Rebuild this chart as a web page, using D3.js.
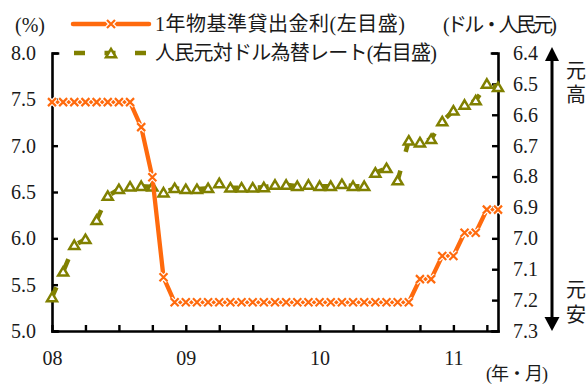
<!DOCTYPE html>
<html>
<head>
<meta charset="utf-8">
<script src="https://cdn.jsdelivr.net/npm/d3@7"></script>
<style>
  body { margin: 0; background: #fff; }
  svg { display: block; }
  text { font-family: "Liberation Serif", "Noto Sans CJK JP", serif; fill: #1a1a1a; }
</style>
</head>
<body>
<svg id="chart" width="588" height="385"></svg>
<script>
// Monthly observations, Jan 2008 (index 0) to May 2011 (index 40)
const monthIndex = d3.range(0, 41);

// 1-year benchmark lending rate (%), left axis
const lendingRate = [
  7.47, 7.47, 7.47, 7.47, 7.47, 7.47, 7.47, 7.47, 7.20, 6.66, 5.58, 5.31,
  5.31, 5.31, 5.31, 5.31, 5.31, 5.31, 5.31, 5.31, 5.31, 5.31, 5.31, 5.31,
  5.31, 5.31, 5.31, 5.31, 5.31, 5.31, 5.31, 5.31, 5.31, 5.56, 5.56, 5.81,
  5.81, 6.06, 6.06, 6.31, 6.31
];

// CNY per USD, right axis (inverted)
const cnyPerUsd = [
  7.191, 7.108, 7.022, 7.003, 6.941, 6.863, 6.841, 6.833, 6.831, 6.833, 6.852, 6.838,
  6.841, 6.841, 6.838, 6.822, 6.836, 6.836, 6.836, 6.835, 6.827, 6.827, 6.831, 6.827,
  6.831, 6.831, 6.825, 6.831, 6.831, 6.788, 6.773, 6.813, 6.684, 6.690, 6.679, 6.622,
  6.587, 6.568, 6.554, 6.500, 6.511
];

const yearLabels = ["08", "09", "10", "11"];
const leftTicks = [5.0, 5.5, 6.0, 6.5, 7.0, 7.5, 8.0];
const rightTicks = [6.4, 6.5, 6.6, 6.7, 6.8, 6.9, 7.0, 7.1, 7.2, 7.3];
const quarterTicks = d3.range(0, 41, 3);

const seriesNames = ["1年物基準貸出金利(左目盛)", "人民元対ドル為替レート(右目盛)"];
const leftUnit = "(%)";
const rightUnit = "(ドル・人民元)";
const xUnit = "(年・月)";
const strongLabel = ["元", "高"];
const weakLabel = ["元", "安"];

const ORANGE = "#ff6a0d";
const OLIVE = "#808000";

const svg = d3.select("#chart");

const x = d3.scaleLinear().domain([0, 40]).range([52, 498]);
const yL = d3.scaleLinear().domain([5, 8]).range([331, 53]);
const yR = d3.scaleLinear().domain([6.4, 7.3]).range([53, 331]);

function styleAxis(g) {
  g.attr("font-family", null).attr("font-size", null);
  g.selectAll("path.domain").attr("stroke", "#000").attr("stroke-width", 2.6)
    .attr("stroke-linecap", "square");
  g.selectAll(".tick line").attr("stroke", "#000").attr("stroke-width", 2.4);
  g.selectAll(".tick text").attr("font-size", 20).attr("fill", "#1a1a1a");
}

// Left axis (lending rate)
svg.append("g")
  .attr("transform", "translate(52,0)")
  .call(d3.axisLeft(yL).tickValues(leftTicks).tickFormat(d3.format(".1f"))
    .tickSizeInner(-6).tickSizeOuter(-6).tickPadding(16))
  .call(styleAxis);

// Right axis (exchange rate, inverted)
svg.append("g")
  .attr("transform", "translate(498,0)")
  .call(d3.axisRight(yR).tickValues(rightTicks).tickFormat(d3.format(".1f"))
    .tickSizeInner(-6).tickSizeOuter(-6).tickPadding(15))
  .call(styleAxis);

// Bottom axis, quarterly ticks, year labels
svg.append("g")
  .attr("transform", "translate(0,331)")
  .call(d3.axisBottom(x).tickValues(quarterTicks)
    .tickFormat(d => d % 12 === 0 ? yearLabels[d / 12] : "")
    .tickSizeInner(-6).tickSizeOuter(0).tickPadding(20))
  .call(styleAxis);

// Exchange-rate series: dashed olive line with open triangles
const fxLine = d3.line().x(i => x(i)).y(i => yR(cnyPerUsd[i]));
svg.append("path")
  .attr("d", fxLine(monthIndex))
  .attr("fill", "none")
  .attr("stroke", OLIVE)
  .attr("stroke-width", 4.5)
  .attr("stroke-dasharray", "11,19.5");

const triangle = "M0,-4.6L5,3.8L-5,3.8Z";
svg.append("g").selectAll("path")
  .data(monthIndex)
  .join("path")
  .attr("transform", i => `translate(${x(i)},${yR(cnyPerUsd[i])})`)
  .attr("d", triangle)
  .attr("fill", "#fff")
  .attr("stroke", OLIVE)
  .attr("stroke-width", 2.5)
  .attr("stroke-linejoin", "miter");

// Lending-rate series: solid orange line with cross markers
const rateLine = d3.line().x(i => x(i)).y(i => yL(lendingRate[i]));
svg.append("path")
  .attr("d", rateLine(monthIndex))
  .attr("fill", "none")
  .attr("stroke", ORANGE)
  .attr("stroke-width", 4.3)
  .attr("stroke-linejoin", "round");

const cross = "M-4,-4L4,4M4,-4L-4,4";
const crossG = svg.append("g");
crossG.selectAll("path.halo")
  .data(monthIndex)
  .join("path")
  .attr("class", "halo")
  .attr("transform", i => `translate(${x(i)},${yL(lendingRate[i])})`)
  .attr("d", cross)
  .attr("stroke", "#fff")
  .attr("stroke-width", 4.6);
crossG.selectAll("path.mark")
  .data(monthIndex)
  .join("path")
  .attr("class", "mark")
  .attr("transform", i => `translate(${x(i)},${yL(lendingRate[i])})`)
  .attr("d", cross)
  .attr("stroke", ORANGE)
  .attr("stroke-width", 2.2);

// Legend
const legend = svg.append("g");
legend.append("line")
  .attr("x1", 73).attr("x2", 149).attr("y1", 24).attr("y2", 24)
  .attr("stroke", ORANGE).attr("stroke-width", 4.5).attr("stroke-linecap", "round");
legend.append("path").attr("transform", "translate(111,24)").attr("d", cross)
  .attr("stroke", "#fff").attr("stroke-width", 4.6);
legend.append("path").attr("transform", "translate(111,24)").attr("d", cross)
  .attr("stroke", ORANGE).attr("stroke-width", 2.2);
legend.append("text").attr("x", 155).attr("y", 24).attr("dy", "0.35em")
  .attr("font-size", 20).attr("textLength", 250).text(seriesNames[0]);

legend.append("line")
  .attr("x1", 74).attr("x2", 146).attr("y1", 53).attr("y2", 53)
  .attr("stroke", OLIVE).attr("stroke-width", 4.5).attr("stroke-dasharray", "11,19.5");
legend.append("path").attr("transform", "translate(111,53.5)").attr("d", triangle)
  .attr("fill", "#fff").attr("stroke", OLIVE).attr("stroke-width", 2.5);
legend.append("text").attr("x", 155).attr("y", 53).attr("dy", "0.35em")
  .attr("font-size", 20).attr("textLength", 282).text(seriesNames[1]);

// Unit labels
svg.append("text").attr("x", 30).attr("y", 25).attr("dy", "0.35em")
  .attr("text-anchor", "middle").attr("font-size", 20).text(leftUnit);
svg.append("text").attr("x", 500).attr("y", 25).attr("dy", "0.35em")
  .attr("text-anchor", "middle").attr("font-size", 20).attr("textLength", 114).text(rightUnit);
svg.append("text").attr("x", 517).attr("y", 380)
  .attr("text-anchor", "middle").attr("font-size", 18).attr("textLength", 62).text(xUnit);

// Direction arrow beside the right axis
const arrowX = 552;
svg.append("line").attr("x1", arrowX).attr("x2", arrowX).attr("y1", 58).attr("y2", 318)
  .attr("stroke", "#000").attr("stroke-width", 3);
svg.append("path").attr("d", `M${arrowX},47L${arrowX + 7},61L${arrowX - 7},61Z`).attr("fill", "#000");
svg.append("path").attr("d", `M${arrowX},331L${arrowX + 7.5},317L${arrowX - 7.5},317Z`).attr("fill", "#000");

svg.append("g").selectAll("text").data(strongLabel).join("text")
  .attr("x", 576).attr("y", (d, i) => 71 + i * 24).attr("dy", "0.35em")
  .attr("text-anchor", "middle").attr("font-size", 20).text(d => d);
svg.append("g").selectAll("text").data(weakLabel).join("text")
  .attr("x", 576).attr("y", (d, i) => 290 + i * 25).attr("dy", "0.35em")
  .attr("text-anchor", "middle").attr("font-size", 20).text(d => d);
</script>
</body>
</html>
